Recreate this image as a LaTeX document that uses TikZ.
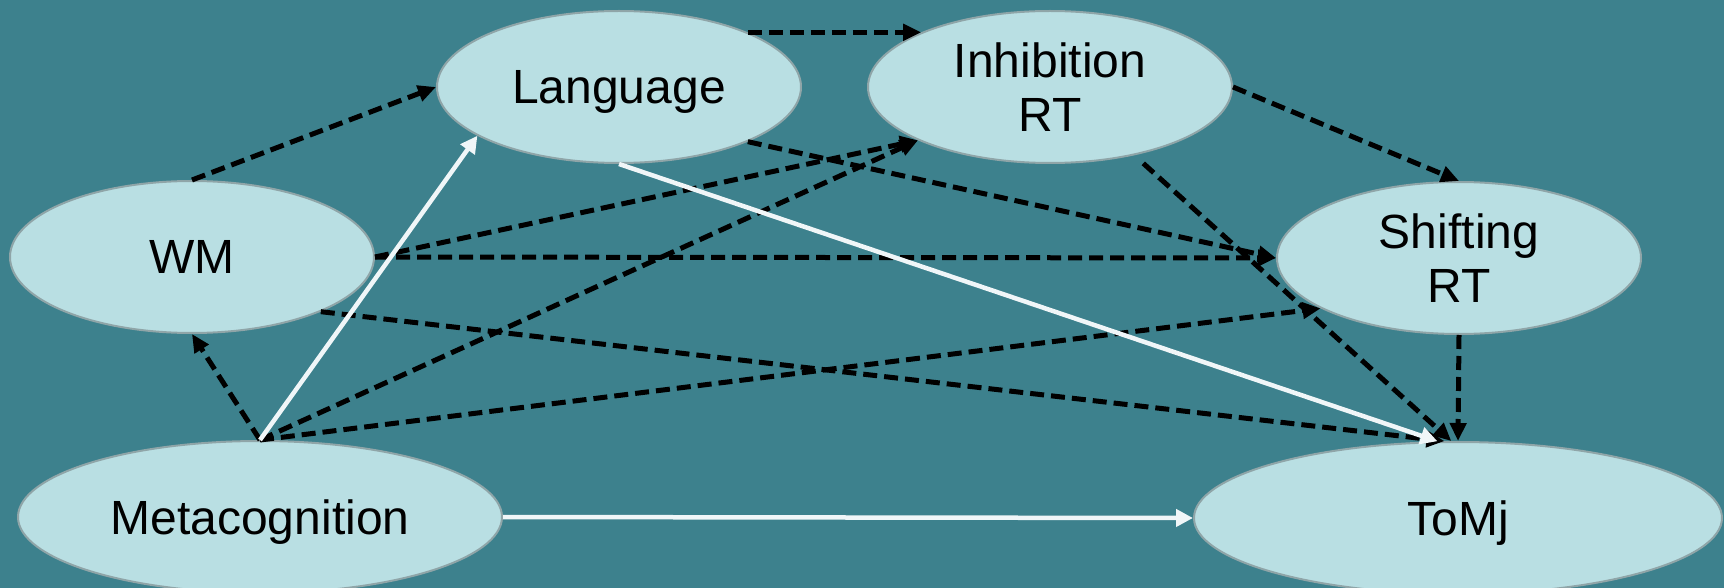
\documentclass[tikz,border=0pt]{standalone}
\usepackage{fontspec}
\setmainfont{Liberation Sans}
\usetikzlibrary{shapes.geometric,arrows.meta}
\definecolor{bg}{HTML}{3D818D}
\definecolor{ellfill}{HTML}{B9DFE3}
\definecolor{ellline}{HTML}{8FA5A8}
\definecolor{wline}{HTML}{F0F6F8}
\begin{document}
\begin{tikzpicture}[x=1pt,y=-1pt,
  var/.style={ellipse, draw=ellline, line width=2pt, fill=ellfill, inner sep=0pt,
    font=\fontsize{48}{54}\selectfont, align=center, minimum height=152pt},
  smallvar/.style={var, minimum width=364pt},
  oneline/.style={text depth=0pt},
  dpath/.style={line width=5pt, dash pattern=on 14pt off 7pt, draw=black,
    -{Triangle[length=18pt,width=16pt]}},
  wpath/.style={line width=4.5pt, draw=wline, -{Triangle[length=17pt,width=17pt]}}]
\fill[bg] (0,0) rectangle (1724,588);
\useasboundingbox (0,0) rectangle (1724,588);

\node[smallvar, oneline] (lang) at (619,87) {Language};
\node[smallvar] (inh) at (1050,87) {Inhibition\\RT};
\node[smallvar, oneline] (wm) at (192,257) {WM};
\node[smallvar] (shift) at (1459,258) {Shifting\\RT};
\node[var, oneline, minimum width=484pt] (meta) at (260,517) {Metacognition};
\node[var, oneline, minimum width=528pt] (tom) at (1458,518) {ToMj};

\draw[dpath] (wm.north) -- (lang.west);
\draw[dpath] (lang.23) -- (inh.157);
\draw[dpath] (inh.east) -- (shift.north);
\draw[dpath] (lang.337) -- (shift.west);
\draw[dpath] (wm.east) -- (shift.west);
\draw[dpath] (wm.east) -- (inh.202);
\draw[dpath] (wm.337.5) -- (tom.100);
\draw[dpath] (meta.north) -- (wm.south);
\draw[dpath] (meta.north) -- (inh.202);
\draw[dpath] (meta.north) -- (shift.200);
\draw[dpath, shorten <=12pt] (inh.321) -- (tom.95);
\draw[dpath] (shift.south) -- (tom.north);
\draw[wpath] (meta.north) -- (lang.199);
\draw[wpath] (lang.south) -- (tom.105);
\draw[wpath] (meta.east) -- (tom.west);
\end{tikzpicture}
\end{document}
